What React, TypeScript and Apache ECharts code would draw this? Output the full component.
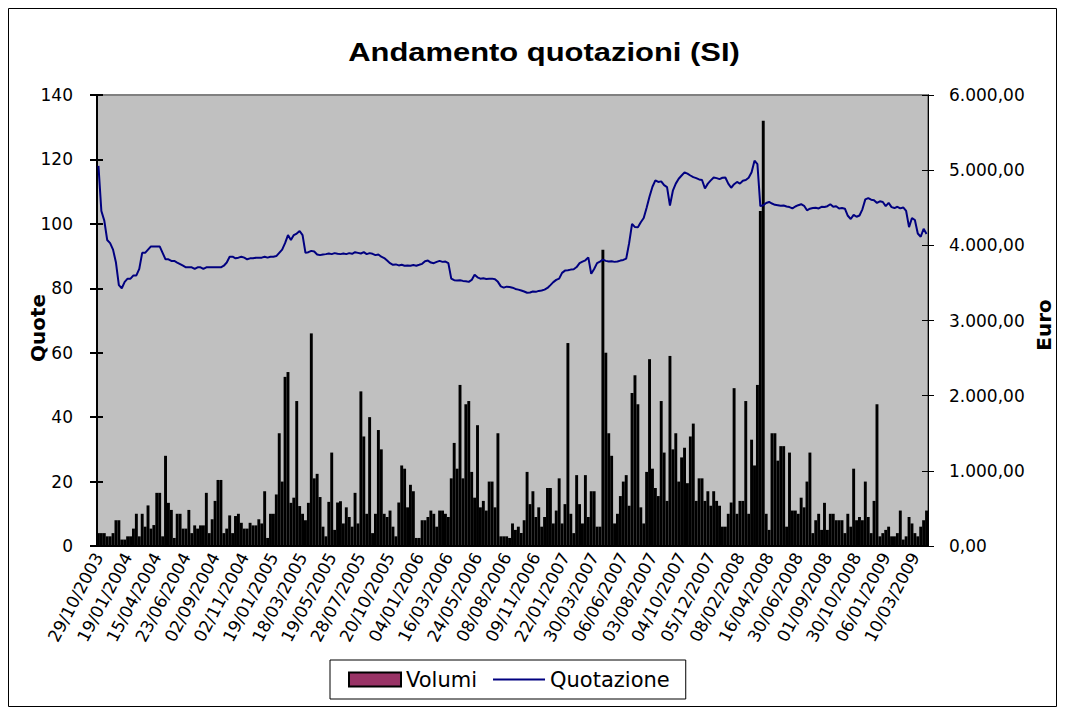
import React, { useEffect, useRef } from "react";
import * as echarts from "echarts";

const dateLabels = [
  "29/10/2003", "19/01/2004", "15/04/2004", "23/06/2004", "02/09/2004", "02/11/2004",
  "19/01/2005", "18/03/2005", "19/05/2005", "28/07/2005", "20/10/2005", "04/01/2006",
  "16/03/2006", "24/05/2006", "08/08/2006", "09/11/2006", "22/01/2007", "30/03/2007",
  "06/06/2007", "03/08/2007", "04/10/2007", "05/12/2007", "08/02/2008", "16/04/2008",
  "30/06/2008", "01/09/2008", "30/10/2008", "06/01/2009", "10/03/2009",
];

// Volumi (left axis, Quote)
const volumes = [
  4, 4, 4, 3, 3, 4, 8, 8, 2, 2,
  3, 3, 5.4, 10, 3, 10, 6, 12.6, 5.4, 6.5,
  16.5, 16.5, 3, 28, 13.4, 11.2, 2.5, 10, 10, 5.4,
  5.4, 11.2, 4, 6.4, 5.4, 6.4, 6.4, 16.5, 4, 8.3,
  14, 20.5, 20.5, 4, 5.4, 9.5, 4, 9.3, 10, 7.2,
  5.4, 5.4, 7.2, 6.4, 6.4, 8.3, 7, 17, 2.5, 10,
  10, 16, 35, 20, 52.5, 54, 13.4, 15, 45, 12.4,
  10, 8, 13.4, 66, 21, 22.4, 15.2, 6, 3, 13.7,
  29, 5, 13.5, 13.9, 7, 12, 9, 6, 16.5, 7,
  48, 34, 10, 40, 4, 10, 36, 30, 10, 9,
  11, 6, 3, 13.5, 25, 24, 12, 19, 17, 2.5,
  2.5, 8, 8, 9, 11, 10, 6, 11, 11, 10,
  9, 21, 32, 24, 50, 21, 44, 45, 23, 15,
  37.5, 12, 14, 11, 20, 20, 12, 35, 3, 3,
  3, 2.5, 7, 5, 6, 4, 8, 23, 13, 17,
  9, 12, 6, 9, 18, 18, 7, 11, 21, 7,
  13, 63, 10, 4, 22, 13, 7, 22, 9, 17,
  17, 6, 6, 92, 60, 35, 28, 7, 10, 15.5,
  20, 22, 12.5, 47.5, 53, 44, 12, 7, 23, 58,
  24, 18, 15.5, 45, 29, 14, 59, 30, 35, 20,
  27.5, 30.5, 19.5, 34, 38, 14, 21, 21, 14, 17,
  12.5, 17, 14, 12.5, 6, 6, 10, 13.5, 49, 10,
  14, 14, 45, 10, 33, 25, 50, 104, 132, 10,
  5, 35, 35, 26.5, 31, 31, 6, 29, 11, 11,
  10, 15, 12, 20, 29, 4, 8, 10, 5, 13.4,
  5, 10, 10, 8, 8, 8, 4, 10, 6, 24,
  8, 9, 8, 20, 9, 4, 14, 44, 3, 4,
  5, 6, 3, 3, 4, 11, 2, 3, 9, 7,
  4, 3, 6, 8, 11,
];

// Quotazione (right axis, Euro)
const prices = [
  5057, 4457, 4329, 4071, 4029, 3943, 3771, 3471, 3429, 3514,
  3557, 3557, 3600, 3600, 3686, 3900, 3900, 3943, 3986, 3986,
  3986, 3986, 3900, 3814, 3814, 3793, 3793, 3771, 3750, 3729,
  3707, 3707, 3707, 3686, 3707, 3707, 3686, 3707, 3707, 3707,
  3707, 3707, 3707, 3729, 3771, 3849, 3849, 3827, 3836, 3849,
  3836, 3814, 3827, 3827, 3836, 3836, 3836, 3849, 3836, 3849,
  3849, 3857, 3900, 3943, 4029, 4136, 4071, 4136, 4157, 4191,
  4136, 3900, 3909, 3926, 3917, 3879, 3870, 3879, 3883, 3891,
  3883, 3896, 3887, 3883, 3891, 3883, 3896, 3887, 3909, 3900,
  3891, 3909, 3883, 3896, 3887, 3870, 3879, 3849, 3831, 3797,
  3763, 3741, 3746, 3733, 3741, 3729, 3733, 3729, 3737, 3729,
  3741, 3754, 3789, 3797, 3771, 3763, 3780, 3793, 3780, 3784,
  3763, 3557, 3536, 3531, 3536, 3527, 3523, 3514, 3540, 3609,
  3574, 3557, 3561, 3553, 3557, 3557, 3549, 3514, 3454, 3437,
  3450, 3446, 3437, 3420, 3411, 3399, 3386, 3369, 3373, 3386,
  3381, 3394, 3399, 3411, 3433, 3471, 3510, 3540, 3557, 3634,
  3664, 3669, 3677, 3681, 3711, 3763, 3784, 3801, 3840, 3621,
  3686, 3763, 3784, 3810, 3793, 3784, 3789, 3780, 3784, 3797,
  3806, 3823, 4029, 4286, 4243, 4239, 4307, 4363, 4500, 4650,
  4779, 4864, 4843, 4851, 4800, 4774, 4530, 4727, 4821, 4886,
  4929, 4971, 4954, 4929, 4907, 4894, 4877, 4869, 4757, 4821,
  4864, 4903, 4894, 4881, 4899, 4903, 4821, 4766, 4813, 4843,
  4821, 4860, 4869, 4899, 4971, 5126, 5079, 4521, 4534, 4564,
  4577, 4556, 4539, 4534, 4526, 4530, 4517, 4509, 4491, 4517,
  4534, 4547, 4526, 4466, 4487, 4496, 4500, 4491, 4513, 4509,
  4521, 4547, 4513, 4521, 4491, 4496, 4487, 4393, 4350, 4406,
  4380, 4397, 4479, 4611, 4629, 4607, 4599, 4564, 4586, 4577,
  4521, 4564, 4509, 4496, 4513, 4491, 4504, 4457, 4243, 4363,
  4337, 4157, 4114, 4221, 4150,
];

const LABEL_STEP = 10;
const categories = volumes.map((_, i) =>
  i % LABEL_STEP === 0 && dateLabels[i / LABEL_STEP] ? dateLabels[i / LABEL_STEP] : String(i)
);

function fmtEuro(v: number): string {
  const s = Math.round(v).toString();
  const withDots = s.replace(/\B(?=(\d{3})+(?!\d))/g, ".");
  return withDots + ",00";
}

const FONT = '"DejaVu Sans", Verdana, sans-serif';

export default function App() {
  const ref = useRef<HTMLDivElement>(null);
  useEffect(() => {
    if (!ref.current) return;
    const chart = echarts.init(ref.current, undefined, { renderer: "svg" });
    const grid = { left: 89, top: 87, width: 831, height: 451 };
    chart.setOption({
      animation: false,
      backgroundColor: "#ffffff",
      grid: {
        ...grid,
        show: true,
        backgroundColor: "#C0C0C0",
        borderColor: "#808080",
        borderWidth: 2,
      },
      legend: {
        left: 322,
        top: 652,
        padding: [9, 16, 9, 18],
        itemGap: 15,
        itemWidth: 52,
        itemHeight: 14,
        backgroundColor: "#ffffff",
        borderColor: "#000000",
        borderWidth: 1,
        textStyle: { fontFamily: FONT, fontSize: 21, color: "#000" },
        data: [
          {
            name: "Volumi",
            icon: "rect",
            itemStyle: { color: "#993366", borderColor: "#000000", borderWidth: 2 },
          },
          {
            name: "Quotazione",
            itemStyle: { color: "rgba(0,0,0,0)", borderColor: "rgba(0,0,0,0)", borderWidth: 0, opacity: 0 },
            lineStyle: { color: "#000080", width: 2, opacity: 1 },
          },
        ],
      },
      xAxis: {
        type: "category",
        data: categories,
        boundaryGap: true,
        axisLine: { show: true, lineStyle: { color: "#000", width: 2 } },
        axisTick: { show: false },
        axisLabel: {
          interval: LABEL_STEP - 1,
          rotate: 62,
          margin: 8,
          fontFamily: FONT,
          fontSize: 17,
          color: "#000",
        },
        splitLine: { show: false },
      },
      yAxis: [
        {
          type: "value",
          position: "left",
          min: 0,
          max: 140,
          interval: 20,
          axisLine: { show: true, lineStyle: { color: "#000", width: 2 } },
          axisTick: { show: true, length: 7, lineStyle: { color: "#000", width: 2 } },
          axisLabel: { margin: 24, fontFamily: FONT, fontSize: 17, color: "#000" },
          splitLine: { show: false },
        },
        {
          type: "value",
          position: "right",
          min: 0,
          max: 6000,
          interval: 1000,
          axisLine: { show: true, lineStyle: { color: "#000", width: 1 } },
          axisTick: { show: true, length: 6, lineStyle: { color: "#000", width: 1 } },
          axisLabel: {
            margin: 21,
            fontFamily: FONT,
            fontSize: 17,
            color: "#000",
            formatter: (v: number) => fmtEuro(v),
          },
          splitLine: { show: false },
        },
        {
          type: "value",
          position: "left",
          min: 0,
          max: 140,
          interval: 20,
          axisLine: { show: false },
          axisTick: { show: true, inside: true, length: 6, lineStyle: { color: "#000", width: 2 } },
          axisLabel: { show: false },
          splitLine: { show: false },
        },
        {
          type: "value",
          position: "right",
          min: 0,
          max: 6000,
          interval: 1000,
          axisLine: { show: false },
          axisTick: { show: true, inside: true, length: 6, lineStyle: { color: "#000", width: 1 } },
          axisLabel: { show: false },
          splitLine: { show: false },
        },
      ],
      series: [
        {
          name: "Volumi",
          type: "bar",
          yAxisIndex: 0,
          data: volumes,
          barCategoryGap: "0%",
          itemStyle: { color: "#000000" },
          z: 2,
        },
        {
          name: "Quotazione",
          type: "line",
          yAxisIndex: 1,
          data: prices,
          symbol: "none",
          lineStyle: { color: "#000080", width: 2 },
          itemStyle: { color: "#000080" },
          z: 3,
        },
      ],
      graphic: [
        {
          type: "rect",
          shape: { x: 0.5, y: 0.5, width: 1048, height: 698 },
          style: { fill: "none", stroke: "#000", lineWidth: 1 },
          silent: true,
        },
        {
          type: "text",
          x: 536,
          y: 44,
          scaleX: 1.19,
          style: {
            text: "Andamento quotazioni (SI)",
            font: 'bold 26px "Liberation Sans", Arial, sans-serif',
            fill: "#000",
            textAlign: "center",
            textVerticalAlign: "middle",
          },
        },
        {
          type: "text",
          x: 30,
          y: 320,
          rotation: Math.PI / 2,
          style: {
            text: "Quote",
            font: 'bold 20px "DejaVu Sans", Verdana, sans-serif',
            fill: "#000",
            textAlign: "center",
            textVerticalAlign: "middle",
          },
        },
        {
          type: "text",
          x: 1036,
          y: 317,
          rotation: Math.PI / 2,
          style: {
            text: "Euro",
            font: 'bold 20px "DejaVu Sans", Verdana, sans-serif',
            fill: "#000",
            textAlign: "center",
            textVerticalAlign: "middle",
          },
        },
      ],
    });
    return () => chart.dispose();
  }, []);
  return <div ref={ref} style={{ width: 1050, height: 700 }} />;
}
